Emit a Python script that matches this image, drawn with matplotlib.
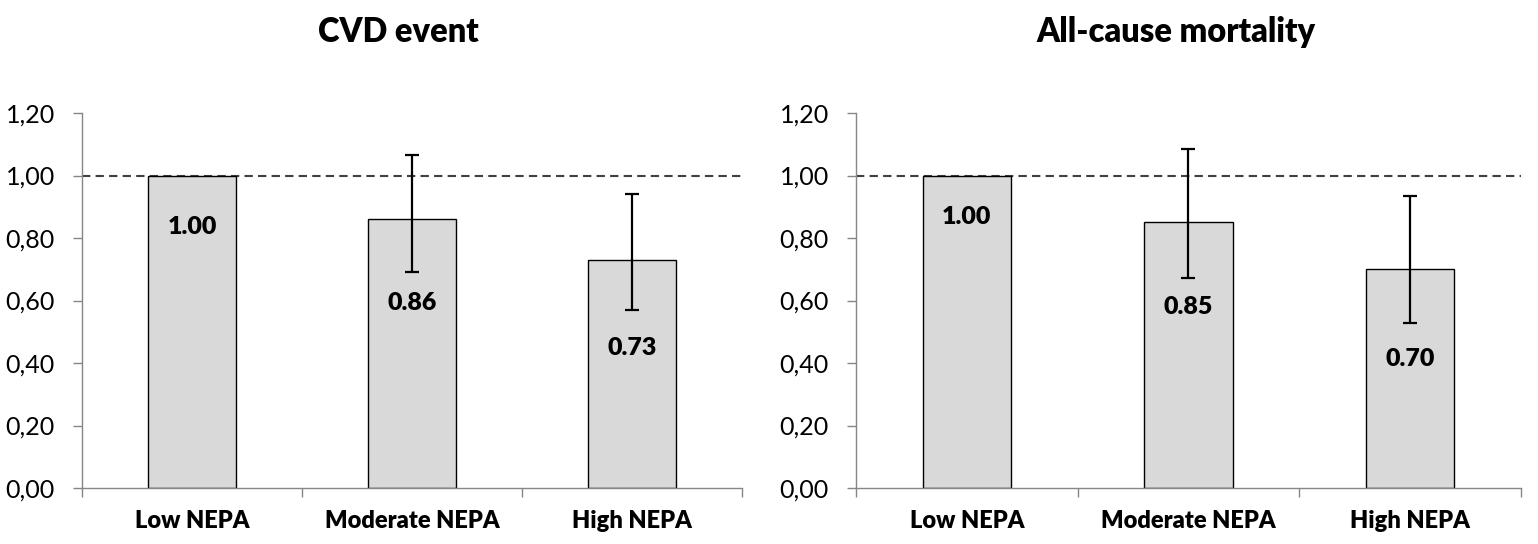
import matplotlib.pyplot as plt
import numpy as np

plt.rcParams['font.family'] = ['Lato', 'DejaVu Sans']

categories = ["Low NEPA", "Moderate NEPA", "High NEPA"]

cvd_values = [1.00, 0.86, 0.73]
cvd_lower = [1.00, 0.69, 0.57]
cvd_upper = [1.00, 1.066, 0.941]
cvd_labels = ["1.00", "0.86", "0.73"]

mort_values = [1.00, 0.85, 0.70]
mort_lower = [1.00, 0.673, 0.528]
mort_upper = [1.00, 1.085, 0.935]
mort_labels = ["1.00", "0.85", "0.70"]

yticks = [0.0, 0.2, 0.4, 0.6, 0.8, 1.0, 1.2]

fig = plt.figure(figsize=(15.38, 5.44), dpi=100)
ax1 = fig.add_axes([82 / 1538, 56 / 544, 660 / 1538, 375 / 544])
ax2 = fig.add_axes([856 / 1538, 56 / 544, 665 / 1538, 375 / 544])

axis_grey = "#868686"


def draw(ax, values, lower, upper, labels, label_offsets, err_shown):
    x = np.arange(len(categories))
    ax.bar(x, values, width=0.4, color="#d9d9d9", edgecolor="black", linewidth=1, zorder=2)
    for i in range(len(x)):
        if not err_shown[i]:
            continue
        ax.errorbar(x[i], values[i],
                    yerr=[[values[i] - lower[i]], [upper[i] - values[i]]],
                    fmt="none", ecolor="black", elinewidth=1.6, capsize=5, capthick=1.6, zorder=3)
    for i in range(len(x)):
        ax.annotate(labels[i], (x[i], values[i]), xytext=(0, -label_offsets[i]),
                    textcoords="offset pixels", ha="center", va="center",
                    fontsize=18, fontweight="heavy", zorder=4)
    ax.axhline(1.0, color="#404040", linestyle=(0, (4, 2.5)), linewidth=1.5, zorder=1)

    ax.set_xlim(-0.5, len(categories) - 0.5)
    ax.set_ylim(0, 1.2)
    ax.set_yticks(yticks)
    ax.set_yticklabels([f"{t:.2f}".replace(".", ",") for t in yticks], fontsize=18)
    ax.set_xticks(np.arange(len(categories) + 1) - 0.5)
    ax.set_xticklabels([])
    ax.set_xticks(x, minor=True)
    ax.set_xticklabels(categories, minor=True, fontsize=17, fontweight="heavy")
    ax.tick_params(axis="x", which="major", direction="out", length=6.5, width=1, color=axis_grey)
    ax.tick_params(axis="x", which="minor", length=0, pad=16)
    ax.tick_params(axis="y", direction="out", length=6.5, width=1, color=axis_grey, pad=13)
    for side in ["top", "right"]:
        ax.spines[side].set_visible(False)
    for side in ["left", "bottom"]:
        ax.spines[side].set_color(axis_grey)
        ax.spines[side].set_linewidth(1)


draw(ax1, cvd_values, cvd_lower, cvd_upper, cvd_labels, [52, 84, 88], [False, True, True])
draw(ax2, mort_values, mort_lower, mort_upper, mort_labels, [42, 85, 90], [False, True, True])

fig.text(398 / 1538, 1 - 32 / 544, "CVD event", ha="center", va="center", fontsize=23.5, fontweight="heavy")
fig.text(1176 / 1538, 1 - 32 / 544, "All-cause mortality", ha="center", va="center", fontsize=23.5, fontweight="heavy")

plt.savefig("out.png", dpi=100)
